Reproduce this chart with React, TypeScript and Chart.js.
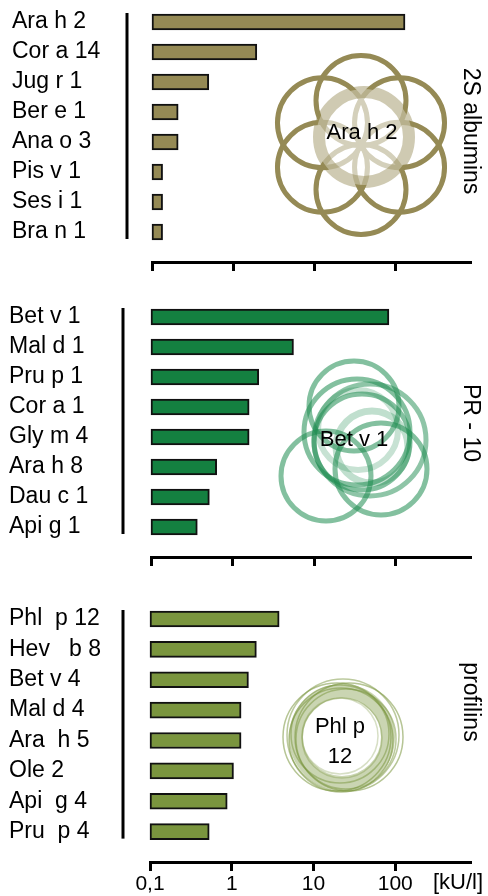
import React, { useEffect, useRef } from "react";
import { Chart, registerables } from "chart.js";

Chart.register(...registerables);

// ---------- data ----------
const ALB_LABELS = ["Ara h 2", "Cor a 14", "Jug r 1", "Ber e 1", "Ana o 3", "Pis v 1", "Ses i 1", "Bra n 1"];
const ALB_VALUES = [130, 1.95, 0.5, 0.21, 0.21, 0.135, 0.135, 0.135];

const PR10_LABELS = ["Bet v 1", "Mal d 1", "Pru p 1", "Cor a 1", "Gly m 4", "Ara h 8", "Dau c 1", "Api g 1"];
const PR10_VALUES = [83, 5.6, 2.1, 1.6, 1.6, 0.64, 0.52, 0.37];

const PROF_LABELS = ["Phl  p 12", "Hev   b 8", "Bet v 4", "Mal d 4", "Ara  h 5", "Ole 2", "Api  g 4", "Pru  p 4"];
const PROF_VALUES = [3.8, 2.0, 1.6, 1.3, 1.3, 1.05, 0.88, 0.53];

const X_TICK_VALUES = [0.1, 1, 10, 100];
const X_TICK_LABELS = ["0,1", "1", "10", "100"];
const X_MIN = 0.1;
const X_MAX = 820;
const X_UNIT = "[kU/l]";

const GROUP_TITLES = ["2S albumins", "PR - 10", "profilins"];
const BADGE_TEXTS = [["Ara h 2"], ["Bet v 1"], ["Phl p", "12"]];

// ---------- styles ----------
const FONT = "'Liberation Sans', Arial, sans-serif";

type Ring = { x: number; y: number; r: number; lw: number; color: string };

const flowerRings = (): Ring[] => {
  const out: Ring[] = [];
  const cx = 361, cy = 145, d = 44.5;
  for (let k = 0; k < 6; k++) {
    const a = -Math.PI / 2 + (k * Math.PI) / 3;
    out.push({ x: cx + d * Math.cos(a), y: cy + d * Math.sin(a), r: 45, lw: 5, color: "#958a55" });
  }
  return out;
};

const G = (a: number) => `rgba(30,140,80,${a})`;
const P = (a: number) => `rgba(122,149,62,${a})`;

const PANELS = [
  {
    top: 0, height: 290, padTop: 22, padLeft: 12, padBottom: 4, xHeight: 24, yWidth: 140,
    color: "#958a55", labels: ALB_LABELS, values: ALB_VALUES, showTicks: false,
    lineDx: 25, title: GROUP_TITLES[0], titleY: 131,
    badge: BADGE_TEXTS[0], badgeX: 362, badgeY: 133,
    rings: flowerRings(),
    veil: { x: 364, y: 137, r: 48, color: "rgba(255,255,255,0.6)" },
    over: [{ x: 364, y: 137, r: 45, lw: 12, color: "rgba(149,138,85,0.45)" }] as Ring[],
  },
  {
    top: 290, height: 300, padTop: 27, padLeft: 9, padBottom: 9, xHeight: 24, yWidth: 142,
    color: "#148040", labels: PR10_LABELS, values: PR10_VALUES, showTicks: false,
    lineDx: 28, title: GROUP_TITLES[1], titleY: 133,
    badge: BADGE_TEXTS[1], badgeX: 354, badgeY: 150,
    rings: [
      { x: 354, y: 116, r: 45, lw: 5, color: G(0.55) },
      { x: 326, y: 186, r: 45, lw: 5, color: G(0.55) },
      { x: 381, y: 179, r: 46, lw: 5, color: G(0.55) },
      { x: 357, y: 142, r: 53, lw: 5, color: G(0.55) },
      { x: 370, y: 150, r: 56, lw: 5, color: G(0.5) },
      { x: 362, y: 152, r: 48, lw: 5, color: G(0.55) },
    ] as Ring[],
    veil: null,
    over: [
      { x: 372, y: 157, r: 36, lw: 7, color: G(0.28) },
      { x: 358, y: 140, r: 40, lw: 6, color: G(0.25) },
    ] as Ring[],
  },
  {
    top: 590, height: 306, padTop: 29, padLeft: 9, padBottom: 0, xHeight: 34, yWidth: 141,
    color: "#7a953e", labels: PROF_LABELS, values: PROF_VALUES, showTicks: true,
    lineDx: 27, title: GROUP_TITLES[2], titleY: 112,
    badge: BADGE_TEXTS[2], badgeX: 340, badgeY: 152,
    rings: [
      { x: 342, y: 147, r: 46, lw: 14, color: P(0.4) },
      { x: 337, y: 147, r: 54, lw: 1.5, color: P(0.55) },
      { x: 349, y: 147, r: 54, lw: 1.5, color: P(0.55) },
      { x: 343, y: 145, r: 56, lw: 1.5, color: P(0.5) },
      { x: 341, y: 150, r: 52, lw: 1.5, color: P(0.55) },
      { x: 346, y: 149, r: 50, lw: 1.5, color: P(0.5) },
      { x: 340, y: 144, r: 49, lw: 1.5, color: P(0.5) },
    ] as Ring[],
    veil: null,
    over: [
      { x: 342, y: 148, r: 40, lw: 1.5, color: P(0.35) },
      { x: 340, y: 146, r: 38, lw: 1.5, color: P(0.3) },
    ] as Ring[],
  },
];

type PanelCfg = (typeof PANELS)[number];

function strokeRing(ctx: CanvasRenderingContext2D, r: Ring) {
  ctx.beginPath();
  ctx.arc(r.x, r.y, r.r, 0, Math.PI * 2);
  ctx.lineWidth = r.lw;
  ctx.strokeStyle = r.color;
  ctx.stroke();
}

function Panel({ cfg, index }: { cfg: PanelCfg; index: number }) {
  const ref = useRef<HTMLCanvasElement>(null);
  useEffect(() => {
    if (!ref.current) return;
    const decor = {
      id: "decor" + index,
      afterDraw(chart: any) {
        const ctx: CanvasRenderingContext2D = chart.ctx;
        const area = chart.chartArea;
        const yScale = chart.scales.y;
        ctx.save();
        // vertical axis-like line
        const lx = area.left - cfg.lineDx;
        ctx.beginPath();
        ctx.moveTo(lx, yScale.getPixelForValue(0) - 9);
        ctx.lineTo(lx, yScale.getPixelForValue(cfg.labels.length - 1) + 7);
        ctx.lineWidth = 3;
        ctx.strokeStyle = "#000";
        ctx.stroke();

        // decorative rings
        cfg.rings.forEach((r) => strokeRing(ctx, r));
        if (cfg.veil) {
          ctx.beginPath();
          ctx.arc(cfg.veil.x, cfg.veil.y, cfg.veil.r, 0, Math.PI * 2);
          ctx.fillStyle = cfg.veil.color;
          ctx.fill();
        }
        cfg.over.forEach((r) => strokeRing(ctx, r));

        // badge text
        ctx.fillStyle = "#000";
        ctx.font = `22px ${FONT}`;
        ctx.textAlign = "center";
        ctx.textBaseline = "middle";
        const n = cfg.badge.length;
        cfg.badge.forEach((t, i) => {
          ctx.fillText(t, cfg.badgeX, cfg.badgeY + (i - (n - 1) / 2) * 30);
        });

        // group title, rotated
        ctx.save();
        ctx.translate(470, cfg.titleY);
        ctx.rotate(Math.PI / 2);
        ctx.font = `23px ${FONT}`;
        ctx.fillText(cfg.title, 0, 0);
        ctx.restore();

        // unit
        if (cfg.showTicks) {
          ctx.font = `22px ${FONT}`;
          ctx.fillText(X_UNIT, area.right - 12, area.bottom + 21);
        }
        ctx.restore();
      },
    };

    const chart = new Chart(ref.current, {
      type: "bar",
      data: {
        labels: [...cfg.labels, ""],
        datasets: [
          {
            data: [...cfg.values, null],
            backgroundColor: cfg.color,
            borderColor: "#111",
            borderWidth: 2,
            borderSkipped: false,
            barThickness: 16,
            clip: false,
          } as any,
        ],
      },
      options: {
        indexAxis: "y",
        animation: false,
        responsive: false,
        layout: { padding: { left: cfg.padLeft, top: cfg.padTop, right: 18, bottom: cfg.padBottom } },
        plugins: { legend: { display: false }, tooltip: { enabled: false } },
        scales: {
          x: {
            type: "logarithmic",
            min: X_MIN,
            max: X_MAX,
            afterBuildTicks: (s: any) => {
              s.ticks = X_TICK_VALUES.map((v) => ({ value: v }));
            },
            afterFit: (s: any) => {
              s.height = cfg.xHeight;
            },
            grid: {
              display: true,
              drawOnChartArea: false,
              drawTicks: true,
              tickLength: 9,
              tickWidth: 3,
              tickColor: "#000",
              color: "#000",
              lineWidth: 3,
            },
            border: { display: true, color: "#000", width: 3 },
            ticks: {
              color: cfg.showTicks ? "#000" : "rgba(0,0,0,0)",
              font: { family: FONT, size: 21 },
              padding: 1,
              maxRotation: 0,
              autoSkip: false,
              callback: (_v: any, i: number) => X_TICK_LABELS[i] ?? "",
            },
          },
          y: {
            type: "category",
            offset: false,
            afterFit: (s: any) => {
              s.width = cfg.yWidth;
            },
            grid: { display: false },
            border: { display: false },
            ticks: {
              crossAlign: "far",
              color: "#000",
              font: { family: FONT, size: 23 },
              autoSkip: false,
              padding: 0,
            },
          },
        },
      } as any,
      plugins: [decor],
    });
    return () => chart.destroy();
  }, []);
  return (
    <div style={{ position: "absolute", left: 0, top: cfg.top, width: 488, height: cfg.height }}>
      <canvas ref={ref} width={488} height={cfg.height} style={{ display: "block" }} />
    </div>
  );
}

export default function App() {
  return (
    <div style={{ position: "absolute", left: 0, top: 0, width: 488, height: 896, background: "#fff" }}>
      {PANELS.map((p, i) => (
        <Panel key={i} cfg={p} index={i} />
      ))}
    </div>
  );
}
